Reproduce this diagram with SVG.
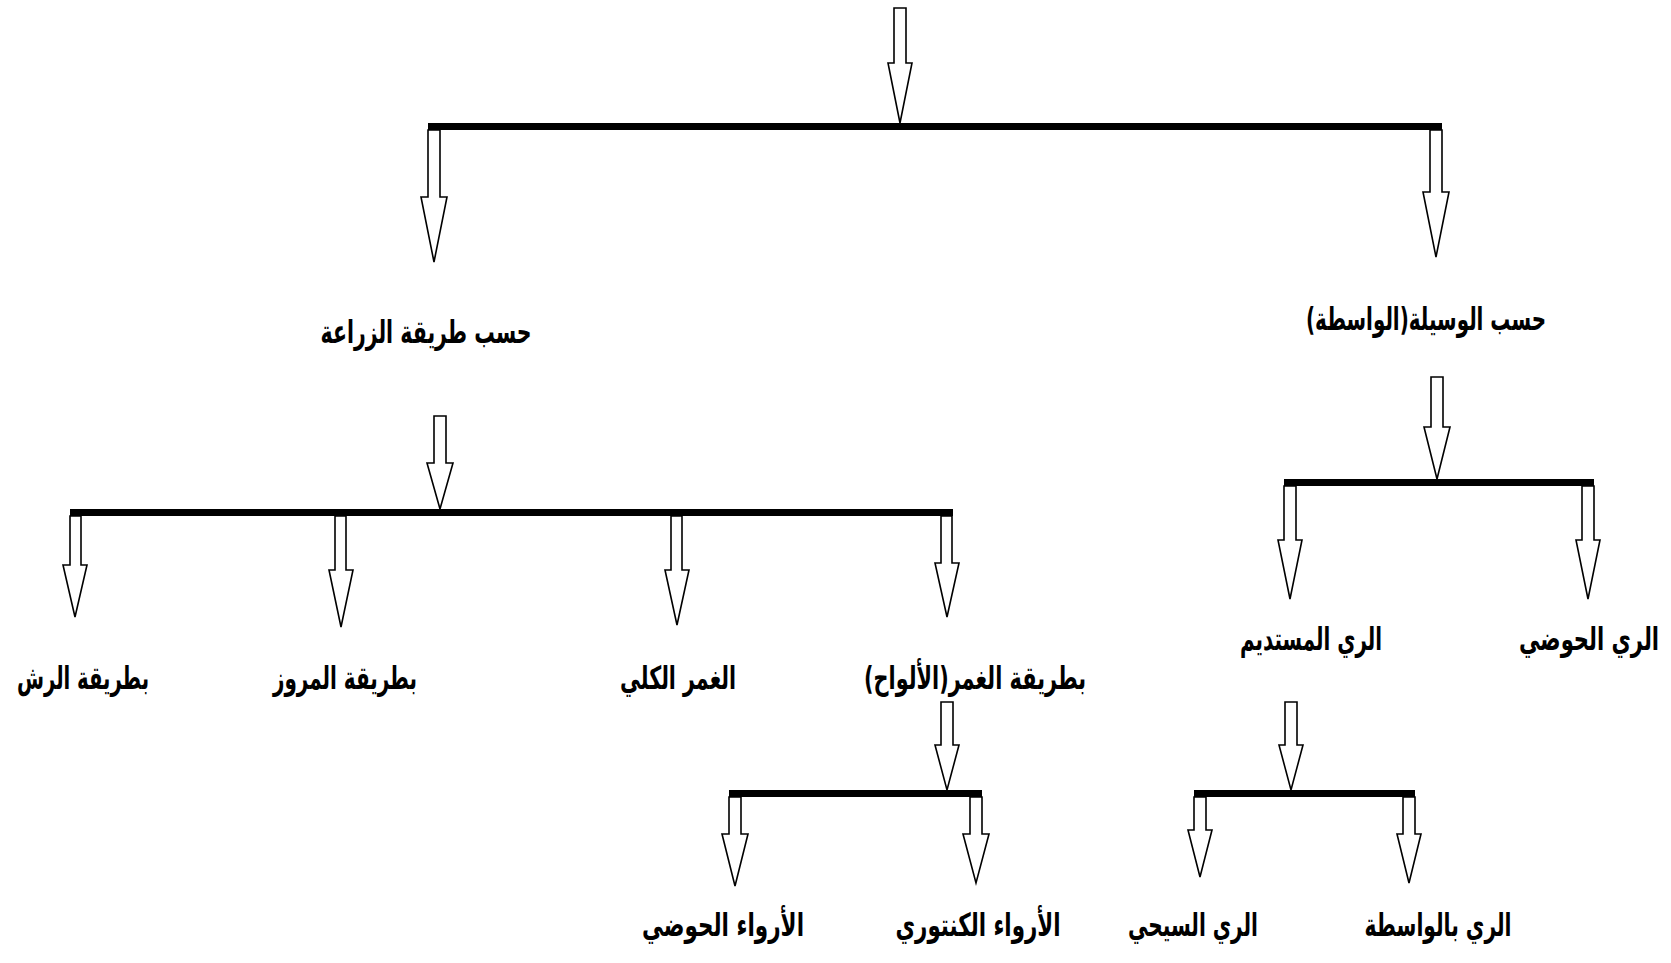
<svg xmlns="http://www.w3.org/2000/svg" width="1671" height="963" viewBox="0 0 1671 963">
<style>
.bg{fill:#ffffff}
.bar{fill:#000000}
.arr{fill:#ffffff;stroke:#000000;stroke-width:1.6;stroke-linejoin:miter}
.lbl{font-family:"DejaVu Sans","Noto Sans",sans-serif;font-weight:bold;font-size:32px;fill:#000000;text-anchor:middle;direction:rtl;unicode-bidi:embed}
</style>
<rect class="bg" x="0" y="0" width="1671" height="963"/>
<g id="connectors">
<rect class="bar" x="428" y="123" width="1014" height="7"/>
<rect class="bar" x="70" y="509" width="883" height="7"/>
<rect class="bar" x="1284" y="479" width="310" height="7"/>
<rect class="bar" x="729" y="790" width="253" height="7"/>
<rect class="bar" x="1194" y="790" width="221" height="7"/>
<path class="arr" d="M894,8 H906 V63 H912 L900,123 L888,63 H894 Z"/>
<path class="arr" d="M428,130 H440 V197 H447 L434,262 L421,197 H428 Z"/>
<path class="arr" d="M1430,130 H1442 V192 H1449 L1436,257 L1423,192 H1430 Z"/>
<path class="arr" d="M434,416 H446 V463 H453 L440,509 L427,463 H434 Z"/>
<path class="arr" d="M1431,377 H1443 V427 H1450 L1437,479 L1424,427 H1431 Z"/>
<path class="arr" d="M70,516 H81 V565 H87 L75,617 L63,565 H70 Z"/>
<path class="arr" d="M335,516 H346 V570 H353 L341,627 L329,570 H335 Z"/>
<path class="arr" d="M671,516 H682 V570 H689 L677,625 L665,570 H671 Z"/>
<path class="arr" d="M941,516 H952 V563 H959 L947,617 L935,563 H941 Z"/>
<path class="arr" d="M1284,486 H1296 V540 H1302 L1290,599 L1278,540 H1284 Z"/>
<path class="arr" d="M1582,486 H1594 V540 H1600 L1588,599 L1576,540 H1582 Z"/>
<path class="arr" d="M941,702 H953 V745 H959 L947,790 L935,745 H941 Z"/>
<path class="arr" d="M1285,702 H1297 V745 H1303 L1291,790 L1279,745 H1285 Z"/>
<path class="arr" d="M729,797 H741 V834 H748 L735,886 L722,834 H729 Z"/>
<path class="arr" d="M970,797 H982 V834 H989 L976,883 L963,834 H970 Z"/>
<path class="arr" d="M1194,797 H1206 V830 H1212 L1200,877 L1188,830 H1194 Z"/>
<path class="arr" d="M1403,797 H1415 V834 H1421 L1409,883 L1397,834 H1403 Z"/>
</g>
<g id="n-planting"><text class="lbl" x="426" y="343" textLength="211" lengthAdjust="spacingAndGlyphs">حسب طريقة الزراعة</text></g>
<g id="n-means"><text class="lbl" x="1426" y="330" textLength="240" lengthAdjust="spacingAndGlyphs">حسب الوسيلة(الواسطة)</text></g>
<g id="n-sprinkler"><text class="lbl" x="83" y="689" textLength="132" lengthAdjust="spacingAndGlyphs">بطريقة الرش</text></g>
<g id="n-furrows"><text class="lbl" x="345" y="689" textLength="144" lengthAdjust="spacingAndGlyphs">بطريقة المروز</text></g>
<g id="n-fullflood"><text class="lbl" x="678" y="689" textLength="116" lengthAdjust="spacingAndGlyphs">الغمر الكلي</text></g>
<g id="n-basins"><text class="lbl" x="975" y="689" textLength="222" lengthAdjust="spacingAndGlyphs">بطريقة الغمر(الألواح)</text></g>
<g id="n-perennial"><text class="lbl" x="1311" y="650" textLength="142" lengthAdjust="spacingAndGlyphs">الري المستديم</text></g>
<g id="n-basin-irr"><text class="lbl" x="1589" y="650" textLength="140" lengthAdjust="spacingAndGlyphs">الري الحوضي</text></g>
<g id="n-basin-plots"><text class="lbl" x="723" y="936" textLength="162" lengthAdjust="spacingAndGlyphs">الأرواء الحوضي</text></g>
<g id="n-contour"><text class="lbl" x="978" y="936" textLength="165" lengthAdjust="spacingAndGlyphs">الأرواء الكنتوري</text></g>
<g id="n-flow"><text class="lbl" x="1193" y="936" textLength="130" lengthAdjust="spacingAndGlyphs">الري السيحي</text></g>
<g id="n-lift"><text class="lbl" x="1438" y="936" textLength="147" lengthAdjust="spacingAndGlyphs">الري بالواسطة</text></g>
</svg>
